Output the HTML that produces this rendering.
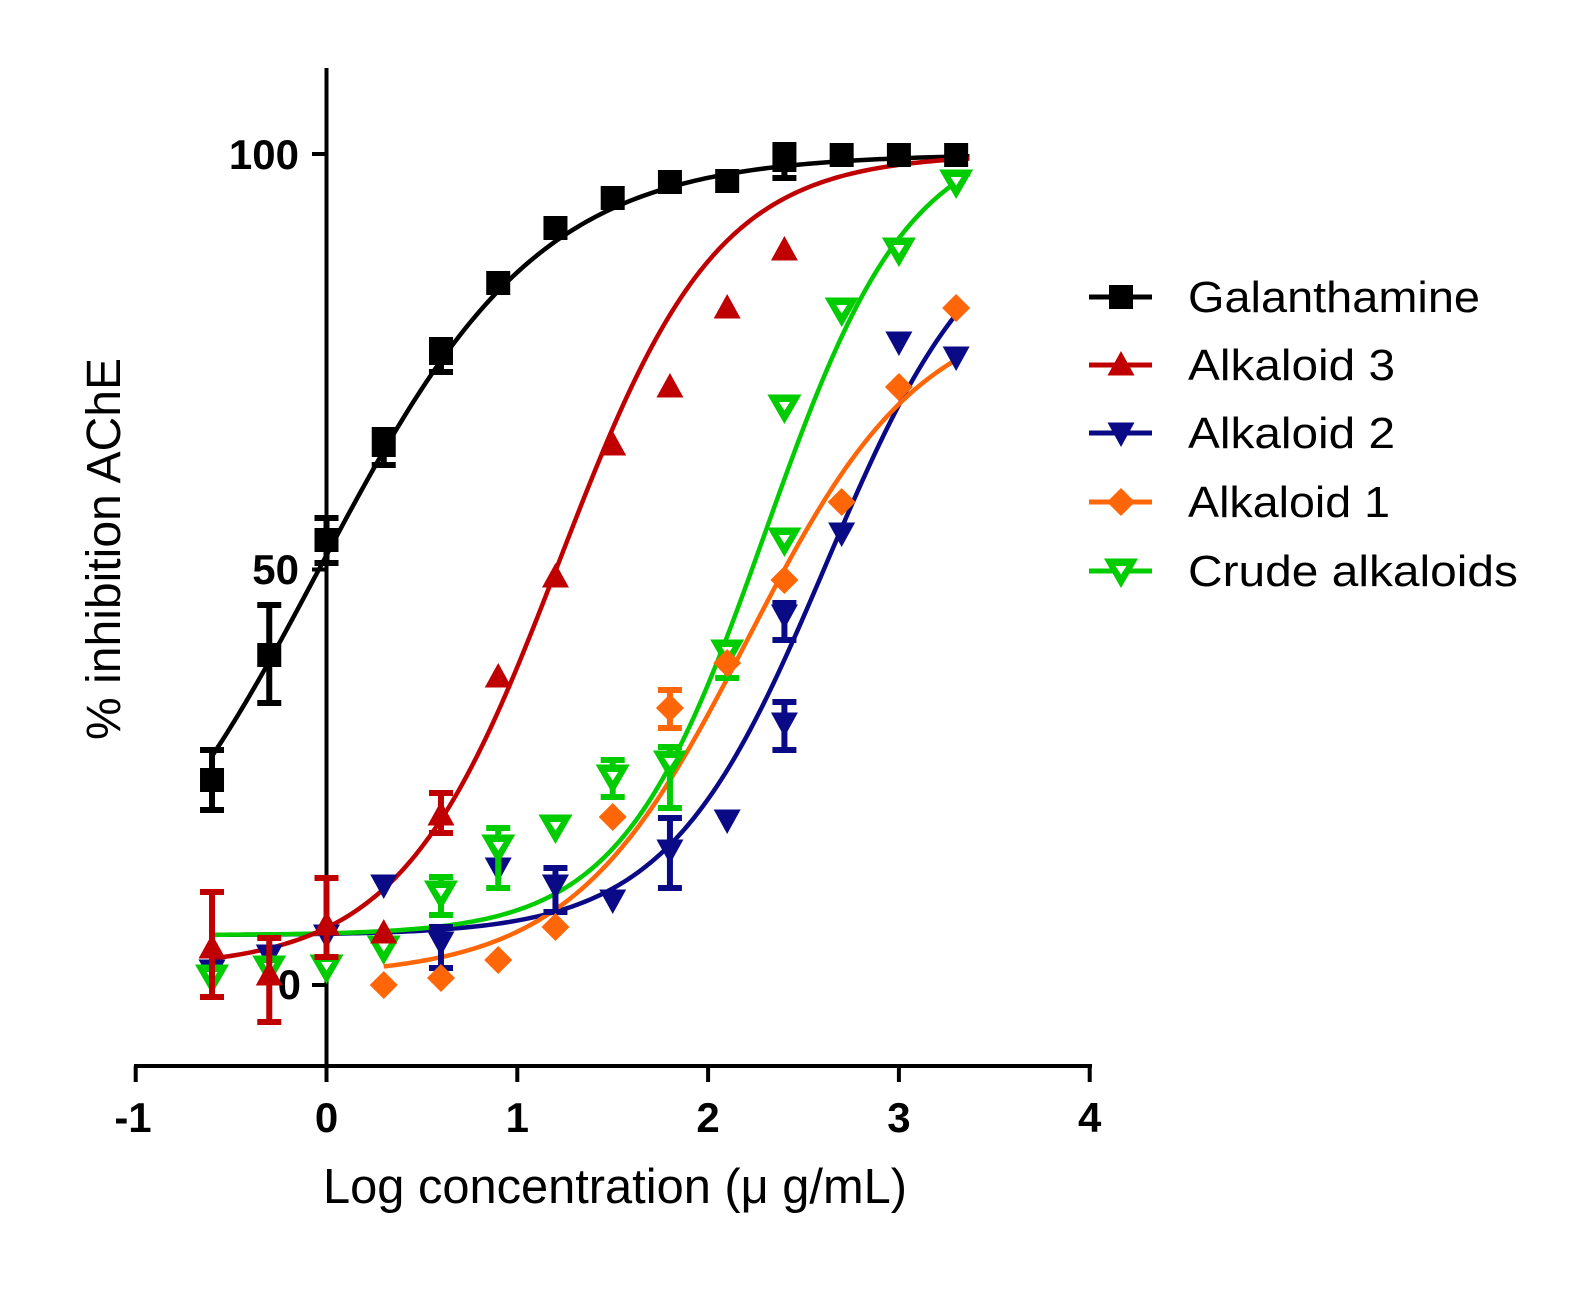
<!DOCTYPE html>
<html>
<head>
<meta charset="utf-8">
<style>
  html, body { margin: 0; padding: 0; background: #ffffff; }
  svg { display: block; }
  text { font-family: "Liberation Sans", Arial, sans-serif; fill: #000; }
</style>
</head>
<body>
<svg id="chart" width="1574" height="1293" viewBox="0 0 1574 1293" xmlns="http://www.w3.org/2000/svg">
  <rect x="0" y="0" width="1574" height="1293" fill="#ffffff"/>

  <!-- Axes -->
  <g stroke="#000" stroke-width="4" fill="none">
    <line x1="326.5" y1="68" x2="326.5" y2="1082"/>
    <line x1="134" y1="1066" x2="1092" y2="1066"/>
    <line x1="135.7" y1="1066" x2="135.7" y2="1082"/>
    <line x1="517.3" y1="1066" x2="517.3" y2="1082"/>
    <line x1="708.1" y1="1066" x2="708.1" y2="1082"/>
    <line x1="898.9" y1="1066" x2="898.9" y2="1082"/>
    <line x1="1089.7" y1="1066" x2="1089.7" y2="1082"/>
    <line x1="312" y1="154" x2="326.5" y2="154"/>
    <line x1="312" y1="569.5" x2="326.5" y2="569.5"/>
    <line x1="312" y1="985" x2="326.5" y2="985"/>
  </g>

  <!-- Tick labels -->
  <g font-weight="bold" font-size="42">
    <text x="299" y="169" text-anchor="end">100</text>
    <text x="299" y="584" text-anchor="end">50</text>
    <text x="301" y="999" text-anchor="end">0</text>
  </g>
  <g font-weight="bold" font-size="42" text-anchor="middle">
    <text x="133" y="1132">-1</text>
    <text x="326.5" y="1132">0</text>
    <text x="517.3" y="1132">1</text>
    <text x="708.1" y="1132">2</text>
    <text x="898.9" y="1132">3</text>
    <text x="1089.7" y="1132">4</text>
  </g>

  <!-- Axis titles -->
  <text x="323" y="1203" font-size="49" textLength="584" lengthAdjust="spacingAndGlyphs">Log concentration (μ g/mL)</text>
  <text transform="translate(120,549) rotate(-90)" x="0" y="0" font-size="48" text-anchor="middle" textLength="382" lengthAdjust="spacingAndGlyphs">% inhibition AChE</text>

  <!-- Legend text -->
  <g font-size="44">
    <text x="1188" y="312" textLength="292" lengthAdjust="spacingAndGlyphs">Galanthamine</text>
    <text x="1188" y="380" textLength="207" lengthAdjust="spacingAndGlyphs">Alkaloid 3</text>
    <text x="1188" y="448" textLength="207" lengthAdjust="spacingAndGlyphs">Alkaloid 2</text>
    <text x="1188" y="517" textLength="202" lengthAdjust="spacingAndGlyphs">Alkaloid 1</text>
    <text x="1188" y="586" textLength="330" lengthAdjust="spacingAndGlyphs">Crude alkaloids</text>
  </g>

  <g id="plot"></g>
</svg>

<script>
(function(){
  var NS = "http://www.w3.org/2000/svg";
  var plot = document.getElementById("plot");
  function X(v){ return 326.5 + 190.8*v; }
  function Y(p){ return 985 - 8.31*p; }
  function el(name, attrs){
    var e = document.createElementNS(NS, name);
    for (var k in attrs) e.setAttribute(k, attrs[k]);
    plot.appendChild(e);
    return e;
  }
  function curve(B,T,c,h,x0,x1,color){
    var d = "";
    var n = 160;
    for (var i=0;i<=n;i++){
      var x = x0 + (x1-x0)*i/n;
      var p = B + (T-B)/(1+Math.pow(10,(c-x)*h));
      d += (i===0?"M":"L") + X(x).toFixed(2) + "," + Y(p).toFixed(2) + " ";
    }
    el("path",{d:d, fill:"none", stroke:color, "stroke-width":4.5, "stroke-linejoin":"round"});
  }
  function errbar(cx, top, bot, color){
    el("line",{x1:cx,y1:top,x2:cx,y2:bot,stroke:color,"stroke-width":6});
    el("line",{x1:cx-12,y1:top,x2:cx+12,y2:top,stroke:color,"stroke-width":6});
    el("line",{x1:cx-12,y1:bot,x2:cx+12,y2:bot,stroke:color,"stroke-width":6});
  }
  function marker(type, cx, cy, color){
    if (type==="sq"){
      el("rect",{x:cx-12,y:cy-12,width:24,height:24,fill:color});
    } else if (type==="up"){
      el("polygon",{points:(cx-13.5)+","+(cy+10.5)+" "+(cx+13.5)+","+(cy+10.5)+" "+cx+","+(cy-14)});
      plot.lastChild.setAttribute("fill",color);
    } else if (type==="down"){
      el("polygon",{points:(cx-13.5)+","+(cy-10.5)+" "+(cx+13.5)+","+(cy-10.5)+" "+cx+","+(cy+14),fill:color});
    } else if (type==="dia"){
      el("polygon",{points:cx+","+(cy-14)+" "+(cx+14)+","+cy+" "+cx+","+(cy+14)+" "+(cx-14)+","+cy,fill:color});
    } else if (type==="open"){
      el("polygon",{points:(cx-17)+","+(cy-12.5)+" "+(cx+17)+","+(cy-12.5)+" "+cx+","+(cy+17),fill:color});
      el("polygon",{points:(cx-5.5)+","+(cy-5)+" "+(cx+5.5)+","+(cy-5)+" "+cx+","+(cy+3.5),fill:"#ffffff"});
    }
  }
  function series(data, type, color){
    data.forEach(function(d){
      var cx = X(d[0]);
      if (d.length>2) errbar(cx, d[2], d[3], color);
    });
    data.forEach(function(d){ marker(type, X(d[0]), d[1], color); });
  }

  var BLACK="#000000", RED="#C00000", BLUE="#0A0A86", ORANGE="#FF6608", GREEN="#00CC00";

  curve(0,100,-0.04,0.75,-0.6,3.37,BLACK);
  curve(6,95,2.616,1.05,-0.6,3.32,BLUE);
  curve(6,103,2.3,1.15,-0.6,3.37,GREEN);
  curve(1,82,2.205,0.95,0.3,3.32,ORANGE);
  curve(2,100,1.22,1.05,-0.6,3.37,RED);

  var blue = [[-0.6,970],[-0.3,955],[0,935],[0.3,885],[0.6,942,927,968],[0.9,868],[1.2,885,868,912],
              [1.5,900],[1.8,850,818,888],[2.1,820],[2.4,723,702,750],[2.4,615,603,640],[2.7,533],[3.0,342],[3.3,357]];
  var green = [[-0.6,977],[-0.3,968],[0,967],[0.3,948],[0.6,893,877,915],[0.9,847,828,888],[1.2,827],
               [1.5,777,760,797],[1.8,763,747,808],[2.1,652,643,678],[2.4,540],[2.4,407],[2.7,310],[3.0,250],[3.3,182]];
  var orange = [[0.3,985],[0.6,978],[0.9,960],[1.2,927],[1.5,817],[1.8,708,690,728],[2.1,663],[2.4,580],
                [2.7,502],[3.0,387],[3.3,308]];
  var red = [[-0.6,948,892,997],[-0.3,975,938,1022],[0,925,878,957],[0.3,933],[0.6,815,793,833],[0.9,677],
             [1.2,577],[1.5,445],[1.8,387],[2.1,308],[2.4,250]];
  var black = [[-0.6,780,750,810],[-0.3,655,605,703],[0,540,518,563],[0.3,445,430,465],[0.6,353,340,372],
               [0.9,283],[1.2,228],[1.5,198],[1.8,182],[2.1,181],[2.4,160,145,178],[2.7,155],[3.0,155],[3.3,155]];

  series(blue,"down",BLUE);
  series(green,"open",GREEN);
  series(orange,"dia",ORANGE);
  series(red,"up",RED);
  series(black,"sq",BLACK);

  var leg = [[297,"sq",BLACK],[365,"up",RED],[433,"down",BLUE],[502,"dia",ORANGE],[571,"open",GREEN]];
  leg.forEach(function(l){
    el("line",{x1:1089,y1:l[0],x2:1152,y2:l[0],stroke:l[2],"stroke-width":5});
    marker(l[1],1121,l[0],l[2]);
  });
})();
</script>
</body>
</html>
